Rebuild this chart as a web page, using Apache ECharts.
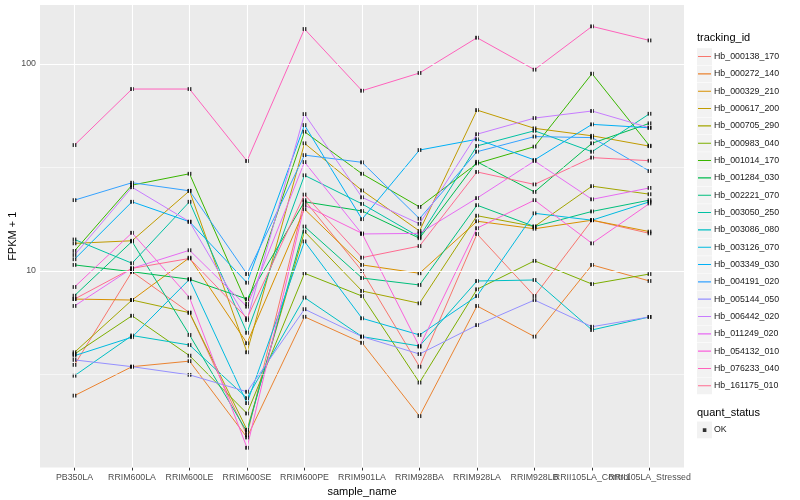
<!DOCTYPE html>
<html><head><meta charset="utf-8">
<script src="https://cdn.jsdelivr.net/npm/echarts@6/dist/echarts.min.js"></script>
<style>html,body{margin:0;padding:0;background:#fff}#c{width:800px;height:500px}</style>
</head><body><div id="c"></div>
<script>
const samples = ['PB350LA','RRIM600LA','RRIM600LE','RRIM600SE','RRIM600PE','RRIM901LA','RRIM928BA','RRIM928LA','RRIM928LB','RRII105LA_Control','RRII105LA_Stressed'];
const trackingIds = ['Hb_000138_170','Hb_000272_140','Hb_000329_210','Hb_000617_200','Hb_000705_290','Hb_000983_040','Hb_001014_170','Hb_001284_030','Hb_002221_070','Hb_003050_250','Hb_003086_080','Hb_003126_070','Hb_003349_030','Hb_004191_020','Hb_005144_050','Hb_006442_020','Hb_011249_020','Hb_054132_010','Hb_076233_040','Hb_161175_010'];
const colors = ['#F8766D','#EA8331','#D89000','#C09B00','#A3A500','#7CAE00','#39B600','#00BB4E','#00BF7D','#00C1A3','#00BFC4','#00BAE0','#00B0F6','#35A2FF','#9590FF','#C77CFF','#E76BF3','#FA62DB','#FF62BC','#FF6C91'];
const yTicks = [10, 100];
const yMinor = [3.1623, 31.623];

const hb000138_170 = [3.52, 9.92, 6.29, 1.61, 22.0, 10.0, 3.45, 15.1, 7.57, 17.6, 15.2];
const hb000272_140 = [2.50, 3.45, 3.67, 1.57, 6.01, 4.50, 1.99, 6.78, 4.82, 10.7, 8.95];
const hb000329_210 = [7.32, 7.24, 11.6, 4.48, 19.9, 10.7, 9.75, 17.4, 16.0, 17.6, 15.5];
const hb000617_200 = [13.6, 14.0, 24.4, 4.05, 41.4, 24.5, 15.6, 59.9, 48.9, 45.0, 40.1];
const hb000705_290 = [4.05, 7.24, 6.29, 1.71, 15.5, 8.01, 6.98, 18.5, 16.4, 25.7, 23.5];
const hb000983_040 = [3.97, 6.08, 3.90, 2.05, 9.75, 7.57, 2.89, 8.16, 11.2, 8.65, 9.67];
const hb001014_170 = [12.5, 26.0, 29.5, 6.93, 47.1, 29.5, 20.4, 33.1, 39.9, 89.8, 40.3];
const hb001284_030 = [10.7, 9.92, 9.12, 7.32, 21.6, 19.5, 14.4, 33.7, 24.1, 41.4, 51.7];
const hb002221_070 = [7.60, 13.9, 4.91, 1.67, 16.4, 9.25, 8.56, 20.8, 16.4, 19.4, 22.0];
const hb003050_250 = [14.2, 10.9, 21.6, 5.03, 29.0, 21.1, 14.6, 40.2, 47.6, 37.7, 57.5];
const hb003086_080 = [3.12, 4.88, 4.39, 2.43, 7.44, 4.82, 4.34, 8.95, 9.05, 5.19, 6.00];
const hb003126_070 = [3.90, 4.79, 9.12, 2.30, 13.9, 5.91, 4.91, 7.57, 19.0, 17.6, 21.6];
const hb003349_030 = [11.4, 21.6, 17.3, 8.78, 50.7, 17.8, 38.4, 43.3, 34.4, 51.1, 49.2];
const hb004191_020 = [22.0, 26.7, 24.4, 9.67, 36.3, 33.5, 17.9, 37.7, 44.6, 44.1, 30.4];
const hb005144_050 = [3.72, 3.45, 3.15, 2.61, 6.54, 4.82, 3.97, 5.48, 7.24, 5.38, 6.00];
const hb006442_020 = [11.95, 25.4, 17.3, 5.80, 57.3, 22.7, 16.9, 45.8, 54.8, 59.3, 49.2];
const hb011249_020 = [6.78, 10.3, 12.6, 6.73, 33.6, 15.1, 15.2, 22.5, 34.0, 22.2, 25.2];
const hb054132_010 = [8.37, 15.3, 7.44, 1.40, 20.8, 15.2, 4.31, 16.1, 22.0, 13.6, 21.2];
const hb076233_040 = [40.6, 75.7, 75.7, 34.0, 147.6, 74.3, 90.5, 134, 93.9, 152, 130];
const hb161175_010 = [7.32, 10.3, 11.5, 5.91, 23.4, 11.6, 13.2, 30.1, 26.2, 35.3, 34.1];

const seriesValues = [hb000138_170, hb000272_140, hb000329_210, hb000617_200, hb000705_290, hb000983_040, hb001014_170, hb001284_030, hb002221_070, hb003050_250, hb003086_080, hb003126_070, hb003349_030, hb004191_020, hb005144_050, hb006442_020, hb011249_020, hb054132_010, hb076233_040, hb161175_010];

const FONT = 'Liberation Sans';
const LABEL_GAP = 5.5;
const chart = echarts.init(document.getElementById('c'), null, {renderer: 'canvas'});

const lineSeries = trackingIds.map((id, k) => ({
  name: id, type: 'line', z: 3, silent: true,
  color: colors[k], showSymbol: false, symbol: 'none',
  lineStyle: {width: 1, color: colors[k]},
  data: seriesValues[k].map((v, i) => [i, v])
}));

const points = [];
seriesValues.forEach(arr => arr.forEach((v, i) => points.push([i, v])));

const sampleIdx = samples.map((s, i) => i);
// the last two labels overlap each other (as in the original); axis label layout would drop one,
// so those two are drawn as labels of the vertical grid lines instead
const axisLabelIdx = sampleIdx.slice(0, samples.length - 2);

const legendTop = 48.2, legendStep = 17.33, legendLeft = 697;
const keyRects = trackingIds.map((id, k) => ({
  type: 'rect', z: 1, silent: true,
  shape: {x: legendLeft, y: legendTop + k * legendStep, width: 15, height: 16.8},
  style: {fill: '#F2F2F2'}
}));
keyRects.push({type: 'rect', z: 1, silent: true, shape: {x: legendLeft, y: 421.5, width: 15, height: 16.8}, style: {fill: '#F2F2F2'}});

const gridLineData = [
  ...yMinor.map(v => ({yAxis: v, lineStyle: {color: '#FFFFFF', width: 0.55, type: 'solid'}})),
  ...yTicks.map(v => ({yAxis: v, lineStyle: {color: '#FFFFFF', width: 1.1, type: 'solid'}})),
  ...samples.map((s, i) => ({
    xAxis: i, lineStyle: {color: '#FFFFFF', width: 1.1, type: 'solid'},
    label: axisLabelIdx.includes(i) ? {show: false} :
      {show: true, position: 'start', formatter: s, distance: LABEL_GAP, fontFamily: FONT, fontSize: 8.8, color: '#4D4D4D'}
  }))
];

const option = {
  animation: false,
  backgroundColor: '#ffffff',
  grid: {left: 40, top: 5, width: 644, height: 462.5, show: true, backgroundColor: '#EBEBEB', borderWidth: 0, containLabel: false, outerBoundsMode: 'none'},
  xAxis: {
    type: 'value', min: -0.6, max: 10.6,
    name: 'sample_name', nameLocation: 'middle', nameGap: 14,
    nameTextStyle: {fontFamily: FONT, fontSize: 11, color: '#000'},
    axisLine: {show: false},
    axisTick: {show: true, customValues: sampleIdx, length: 3, lineStyle: {color: '#333333', width: 1}},
    axisLabel: {customValues: axisLabelIdx, formatter: v => samples[v], fontFamily: FONT, fontSize: 8.8, color: '#4D4D4D', margin: LABEL_GAP, hideOverlap: false, interval: 0},
    splitLine: {show: false}
  },
  yAxis: {
    type: 'log', logBase: 10, min: 1.124, max: 192.8,
    name: 'FPKM + 1', nameLocation: 'middle', nameGap: 22, nameRotate: 90, nameMoveOverlap: false,
    nameTextStyle: {fontFamily: FONT, fontSize: 11, color: '#000'},
    axisLine: {show: false},
    axisTick: {show: true, length: 3, lineStyle: {color: '#333333', width: 1}},
    axisLabel: {fontFamily: FONT, fontSize: 8.8, color: '#4D4D4D', margin: 4, showMinLabel: false, showMaxLabel: false},
    splitLine: {show: false}
  },
  legend: [{
    orient: 'vertical', left: legendLeft, top: legendTop, padding: 0,
    itemWidth: 15, itemHeight: 17, itemGap: legendStep - 17,
    icon: 'path://M0 0h0.01v0.01h-0.01zM1 7.8h13v1.1h-13zM14.99 16.99h0.01v0.01h-0.01z',
    selectedMode: false, z: 5,
    textStyle: {fontFamily: FONT, fontSize: 8.8, color: '#1A1A1A', padding: [0, 0, 0, -3]},
    data: trackingIds.map((id, k) => ({name: id, itemStyle: {color: colors[k]}}))
  }, {
    orient: 'vertical', left: legendLeft, top: 421.5, padding: 0,
    itemWidth: 15, itemHeight: 17,
    icon: 'path://M0 0h0.01v0.01h-0.01zM5.8 6.8h3.6v3.6h-3.6zM14.99 16.99h0.01v0.01h-0.01z',
    selectedMode: false, z: 5,
    textStyle: {fontFamily: FONT, fontSize: 8.8, color: '#1A1A1A', padding: [0, 0, 0, -3]},
    data: [{name: 'OK', itemStyle: {color: '#000'}}]
  }],
  graphic: [
    ...keyRects,
    {type: 'text', z: 5, silent: true, style: {text: 'tracking_id', x: 697, y: 38, fontFamily: FONT, fontSize: 11, fill: '#000', verticalAlign: 'middle'}},
    {type: 'text', z: 5, silent: true, style: {text: 'quant_status', x: 697, y: 412.5, fontFamily: FONT, fontSize: 11, fill: '#000', verticalAlign: 'middle'}}
  ],
  series: [
    {
      name: 'grid', type: 'line', data: [], z: 1, silent: true,
      markLine: {silent: true, symbol: 'none', animation: false, label: {show: false}, data: gridLineData}
    },
    ...lineSeries,
    {
      name: 'OK', type: 'scatter', z: 4, silent: true,
      symbol: 'rect', symbolSize: [3.8, 3.8],
      itemStyle: {color: '#000000'},
      data: points
    }
  ]
};
chart.setOption(option);
</script>
</body></html>
